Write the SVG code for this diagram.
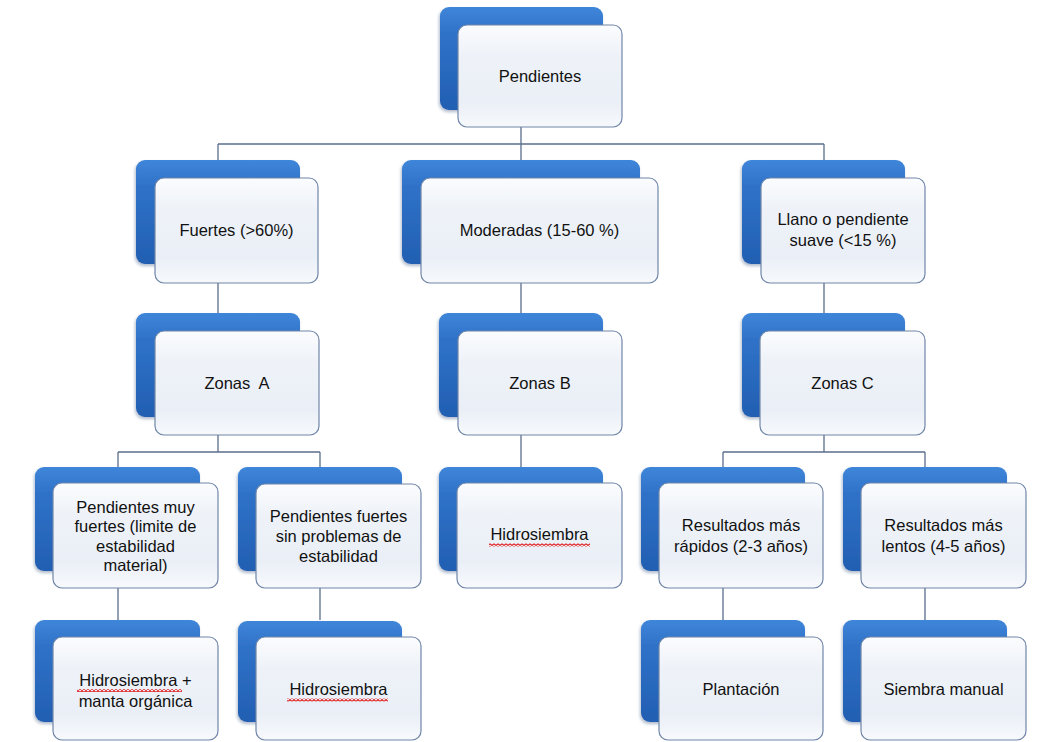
<svg xmlns="http://www.w3.org/2000/svg" width="1046" height="742" viewBox="0 0 1046 742">
  <defs>
    <linearGradient id="blueGrad" x1="0" y1="0" x2="0" y2="1">
      <stop offset="0" stop-color="#3f86d9"/>
      <stop offset="0.25" stop-color="#2f72c8"/>
      <stop offset="1" stop-color="#225fb2"/>
    </linearGradient>
    <linearGradient id="frontGrad" x1="0" y1="0" x2="0" y2="1">
      <stop offset="0" stop-color="#fbfcfe"/>
      <stop offset="0.3" stop-color="#eef2f8"/>
      <stop offset="0.75" stop-color="#eaeff7"/>
      <stop offset="1" stop-color="#f7f9fc"/>
    </linearGradient>
    <filter id="shadow" x="-10%" y="-10%" width="125%" height="125%">
      <feDropShadow dx="-1" dy="2" stdDeviation="1.5" flood-color="#1a3a6a" flood-opacity="0.35"/>
    </filter>
    <pattern id="sq" width="4" height="3" patternUnits="userSpaceOnUse">
      <path d="M0 2.5 L2 0.5 L4 2.5" fill="none" stroke="#e01f1f" stroke-width="1.2"/>
    </pattern>
  </defs>
  <style>
    .back { fill: url(#blueGrad); filter: url(#shadow); }
    .front { fill: url(#frontGrad); stroke: #7086a8; stroke-width: 1.2; }
    .lbl { font-family: "Liberation Sans", Arial, sans-serif; font-size: 16.5px; fill: #111111; text-anchor: middle; }
    .conn { fill: none; stroke: #5b6f8c; stroke-width: 1.3; }
    .squig { fill: url(#sq); }
  </style>
  <rect width="1046" height="742" fill="#ffffff"/>

  <g id="connectors">
    <path class="conn" d="M521 127 V144 M218 144 H824 M218 144 V160 M521 144 V160 M824 144 V160"/>
    <path class="conn" d="M218 283 V313 M521 283 V313 M824 283 V313"/>
    <path class="conn" d="M218 435 V452 M118 452 H320 M118 452 V467 M320 452 V467"/>
    <path class="conn" d="M521 435 V467"/>
    <path class="conn" d="M824 435 V452 M723 452 H925 M723 452 V467 M925 452 V467"/>
    <path class="conn" d="M118 588 V620 M320 588 V620 M723 588 V620 M925 588 V620"/>
  </g>

  <g id="n-pendientes">
    <rect class="back" x="440" y="7" width="163" height="103" rx="9"/>
    <rect class="front" x="458" y="25" width="164" height="102" rx="9"/>
    <text class="lbl" x="540" y="82">Pendientes</text>
  </g>

  <g id="n-fuertes">
    <rect class="back" x="136" y="160" width="164" height="104" rx="9"/>
    <rect class="front" x="155" y="178" width="163" height="105" rx="9"/>
    <text class="lbl" x="236.5" y="236">Fuertes (&gt;60%)</text>
  </g>

  <g id="n-moderadas">
    <rect class="back" x="402" y="160" width="238" height="104" rx="9"/>
    <rect class="front" x="421" y="178" width="237" height="105" rx="9"/>
    <text class="lbl" x="539.5" y="236">Moderadas (15-60 %)</text>
  </g>

  <g id="n-llano">
    <rect class="back" x="742" y="160" width="163" height="104" rx="9"/>
    <rect class="front" x="761" y="178" width="164" height="105" rx="9"/>
    <text class="lbl" x="843" y="225">Llano o pendiente</text>
    <text class="lbl" x="843" y="246">suave (&lt;15 %)</text>
  </g>

  <g id="n-zonas-a">
    <rect class="back" x="136" y="313" width="164" height="104" rx="9"/>
    <rect class="front" x="155" y="331" width="164" height="104" rx="9"/>
    <text class="lbl" x="237" y="389" xml:space="preserve">Zonas  A</text>
  </g>

  <g id="n-zonas-b">
    <rect class="back" x="439" y="313" width="164" height="104" rx="9"/>
    <rect class="front" x="458" y="331" width="164" height="104" rx="9"/>
    <text class="lbl" x="540" y="389">Zonas B</text>
  </g>

  <g id="n-zonas-c">
    <rect class="back" x="742" y="313" width="163" height="104" rx="9"/>
    <rect class="front" x="760" y="331" width="165" height="104" rx="9"/>
    <text class="lbl" x="842.5" y="389">Zonas C</text>
  </g>

  <g id="n-muy-fuertes">
    <rect class="back" x="35" y="467" width="165" height="104" rx="9"/>
    <rect class="front" x="53" y="483" width="165" height="105" rx="9"/>
    <text class="lbl" x="135.5" y="512.5">Pendientes muy</text>
    <text class="lbl" x="135.5" y="532">fuertes (limite de</text>
    <text class="lbl" x="135.5" y="551.5">estabilidad</text>
    <text class="lbl" x="135.5" y="571">material)</text>
  </g>

  <g id="n-fuertes-sin">
    <rect class="back" x="238" y="467" width="164" height="104" rx="9"/>
    <rect class="front" x="256" y="484" width="165" height="104" rx="9"/>
    <text class="lbl" x="338.5" y="522">Pendientes fuertes</text>
    <text class="lbl" x="338.5" y="542">sin problemas de</text>
    <text class="lbl" x="338.5" y="561.5">estabilidad</text>
  </g>

  <g id="n-hidro-b">
    <rect class="back" x="439" y="467" width="164" height="104" rx="9"/>
    <rect class="front" x="457" y="483" width="165" height="105" rx="9"/>
    <text class="lbl" x="539.5" y="540">Hidrosiembra</text>
    <rect class="squig" x="489" y="543.5" width="101" height="3"/>
  </g>

  <g id="n-rapidos">
    <rect class="back" x="641" y="467" width="164" height="104" rx="9"/>
    <rect class="front" x="659" y="483" width="164" height="105" rx="9"/>
    <text class="lbl" x="741" y="531">Resultados más</text>
    <text class="lbl" x="741" y="552">rápidos (2-3 años)</text>
  </g>

  <g id="n-lentos">
    <rect class="back" x="843" y="467" width="164" height="104" rx="9"/>
    <rect class="front" x="861" y="483" width="165" height="105" rx="9"/>
    <text class="lbl" x="943.5" y="531">Resultados más</text>
    <text class="lbl" x="943.5" y="552">lentos (4-5 años)</text>
  </g>

  <g id="n-hidro-manta">
    <rect class="back" x="35" y="620" width="165" height="102" rx="9"/>
    <rect class="front" x="53" y="637" width="165" height="103" rx="9"/>
    <text class="lbl" x="135.5" y="686">Hidrosiembra +</text>
    <text class="lbl" x="135.5" y="707">manta orgánica</text>
    <rect class="squig" x="77" y="689" width="105" height="3"/>
  </g>

  <g id="n-hidro-a2">
    <rect class="back" x="238" y="621" width="164" height="101" rx="9"/>
    <rect class="front" x="256" y="637" width="165" height="103" rx="9"/>
    <text class="lbl" x="338.5" y="695">Hidrosiembra</text>
    <rect class="squig" x="287" y="698.5" width="101" height="3"/>
  </g>

  <g id="n-plantacion">
    <rect class="back" x="641" y="620" width="164" height="102" rx="9"/>
    <rect class="front" x="659" y="637" width="164" height="103" rx="9"/>
    <text class="lbl" x="741" y="695">Plantación</text>
  </g>

  <g id="n-siembra">
    <rect class="back" x="843" y="620" width="164" height="102" rx="9"/>
    <rect class="front" x="861" y="637" width="165" height="103" rx="9"/>
    <text class="lbl" x="943.5" y="695">Siembra manual</text>
  </g>
</svg>
